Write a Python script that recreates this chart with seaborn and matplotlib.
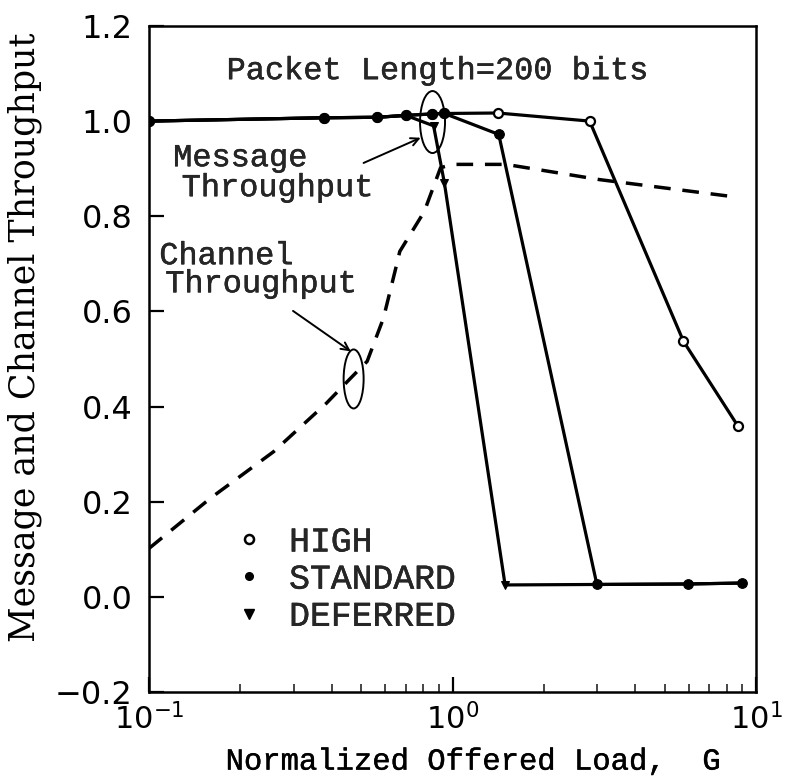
import numpy as np
import pandas as pd
import matplotlib
matplotlib.use("Agg")
import matplotlib.pyplot as plt
import seaborn as sns
from matplotlib.lines import Line2D
from matplotlib.patches import Ellipse
from matplotlib.transforms import ScaledTranslation
from matplotlib.ticker import LogLocator, NullFormatter, FixedLocator
import matplotlib.patheffects as pe

# Message throughput per priority class versus normalized offered load
high_load = [0.1, 0.378, 0.565, 0.702, 0.853, 0.94, 1.41, 2.83, 5.77, 8.7]
high_tput = [1.0, 1.007, 1.008, 1.012, 1.015, 1.016, 1.017, 1.0, 0.537, 0.36]

std_load = [0.1, 0.378, 0.565, 0.702, 0.853, 0.94, 1.42, 2.99, 5.95, 8.98]
std_tput = [1.0, 1.007, 1.008, 1.012, 1.015, 1.016, 0.972, 0.026, 0.027, 0.029]

def_load = [0.1, 0.378, 0.565, 0.702, 0.866, 0.94, 1.49, 2.99, 5.95, 8.98]
def_tput = [1.0, 1.007, 1.008, 1.012, 0.99, 0.87, 0.025, 0.026, 0.027, 0.029]

# Channel throughput
chan_load = [0.1, 0.159, 0.257, 0.384, 0.462, 0.523, 0.592, 0.65, 0.67, 0.807,
             0.913, 1.0, 1.5, 3.05, 8.2]
chan_tput = [0.102, 0.207, 0.305, 0.407, 0.46, 0.495, 0.586, 0.691, 0.726, 0.81,
             0.902, 0.909, 0.909, 0.877, 0.842]

class_names = ["HIGH", "STANDARD", "DEFERRED"]
y_ticks = [-0.2, 0.0, 0.2, 0.4, 0.6, 0.8, 1.0, 1.2]
x_ticks = [0.1, 1.0, 10.0]
x_tick_labels = [r"$10^{-1}$", r"$10^{0}$", r"$10^{1}$"]

sns.set_style("white")
plt.rcParams["font.family"] = ["DejaVu Sans"]
plt.rcParams["mathtext.fontset"] = "dejavusans"

MONO = "Liberation Mono"
SERIF = "DejaVu Serif"
heavy = [pe.withStroke(linewidth=0.3, foreground="black")]

fig = plt.figure(figsize=(7.85, 7.79), dpi=100)
ax = fig.add_axes([0.19, 0.1117, 0.773, 0.855])

lw = 2.3
df_chan = pd.DataFrame({"G": chan_load, "S": chan_tput})
sns.lineplot(data=df_chan, x="G", y="S", ax=ax, color="black", lw=2.5,
             sort=False, estimator=None, linestyle=(0, (4.8, 3.4)))

df_def = pd.DataFrame({"G": def_load, "S": def_tput})
sns.lineplot(data=df_def, x="G", y="S", ax=ax, color="black", lw=lw,
             sort=False, estimator=None, marker="v", markersize=6,
             markevery=[4, 5, 6], markeredgecolor="black")

df_high = pd.DataFrame({"G": high_load, "S": high_tput})
sns.lineplot(data=df_high, x="G", y="S", ax=ax, color="black", lw=lw,
             sort=False, estimator=None, marker="o", markersize=6.5,
             markerfacecolor="white", markeredgecolor="black", markeredgewidth=1.6)

df_std = pd.DataFrame({"G": std_load, "S": std_tput})
sns.lineplot(data=df_std, x="G", y="S", ax=ax, color="black", lw=lw,
             sort=False, estimator=None, marker="o", markersize=7,
             markerfacecolor="black", markeredgecolor="black")

ax.set_xscale("log")
ax.set_xlim(0.1, 10)
ax.set_ylim(-0.2, 1.2)

# axes frame and ticks
for side in ["left", "right", "top", "bottom"]:
    ax.spines[side].set_color("black")
    ax.spines[side].set_linewidth(1.8)

ax.yaxis.set_major_locator(FixedLocator(y_ticks))
ax.set_yticklabels([f"{v:.1f}".replace("-", "\u2212") for v in y_ticks])
ax.xaxis.set_major_locator(FixedLocator(x_ticks))
ax.set_xticklabels(x_tick_labels)
ax.xaxis.set_minor_locator(LogLocator(base=10, subs=np.arange(2, 10)))
ax.xaxis.set_minor_formatter(NullFormatter())
ax.tick_params(axis="y", which="major", direction="in", length=11, width=1.6,
               left=True, right=False, labelsize=23, pad=12, colors="black")
ax.tick_params(axis="x", which="major", direction="in", length=11, width=1.6,
               bottom=True, top=False, labelsize=22, pad=8, colors="black")
ax.tick_params(axis="x", which="minor", direction="in", length=6, width=1.2,
               bottom=True, top=False)

ax.set_xlabel("Normalized Offered Load,  G", fontsize=22, family=MONO, color="black",
              path_effects=heavy)
ax.set_ylabel("Message and Channel Throughput", fontsize=25, family=SERIF, color="black")
ax.xaxis.set_label_coords(0.532, -0.082)
ax.yaxis.set_label_coords(-0.176, 0.532)

# annotations
ann_size = 23
ann = dict(fontsize=ann_size, family=MONO, ha="left", va="center", path_effects=heavy)
ax.text(0.18, 1.105, "Packet Length=200 bits", **ann)
ax.text(0.12, 0.922, "Message", **ann)
ax.text(0.128, 0.859, "Throughput", **ann)
ax.text(0.108, 0.716, "Channel", **ann)
ax.text(0.113, 0.657, "Throughput", **ann)

ax.annotate("", xy=(0.785, 0.965), xytext=(0.509, 0.912),
            arrowprops=dict(arrowstyle="->", color="black", lw=1.4,
                            shrinkA=0, shrinkB=0, mutation_scale=14))
ax.annotate("", xy=(0.462, 0.516), xytext=(0.298, 0.601),
            arrowprops=dict(arrowstyle="->", color="black", lw=1.4,
                            shrinkA=0, shrinkB=0, mutation_scale=14))

def ring(x, y, w_in, h_in):
    tr = fig.dpi_scale_trans + ScaledTranslation(x, y, ax.transData)
    ax.add_patch(Ellipse((0, 0), w_in, h_in, transform=tr, fill=False,
                         edgecolor="black", lw=1.4))

ring(0.859, 0.998, 0.25, 0.62)
ring(0.472, 0.458, 0.20, 0.59)

# legend
handles = [
    Line2D([], [], ls="none", marker="o", markersize=6.5, markerfacecolor="white",
           markeredgecolor="black", markeredgewidth=1.8),
    Line2D([], [], ls="none", marker="o", markersize=5.5, color="black"),
    Line2D([], [], ls="none", marker="v", markersize=7, color="black"),
]
leg = ax.legend(handles, class_names, loc="upper left", bbox_to_anchor=(0.142, 0.25),
                frameon=False, prop={"family": MONO, "size": 25},
                handlelength=0.8, handletextpad=0.75, labelspacing=0.12,
                borderaxespad=0, borderpad=0)
for t in leg.get_texts():
    t.set_path_effects(heavy)

fig.savefig("out.png", dpi=100)
